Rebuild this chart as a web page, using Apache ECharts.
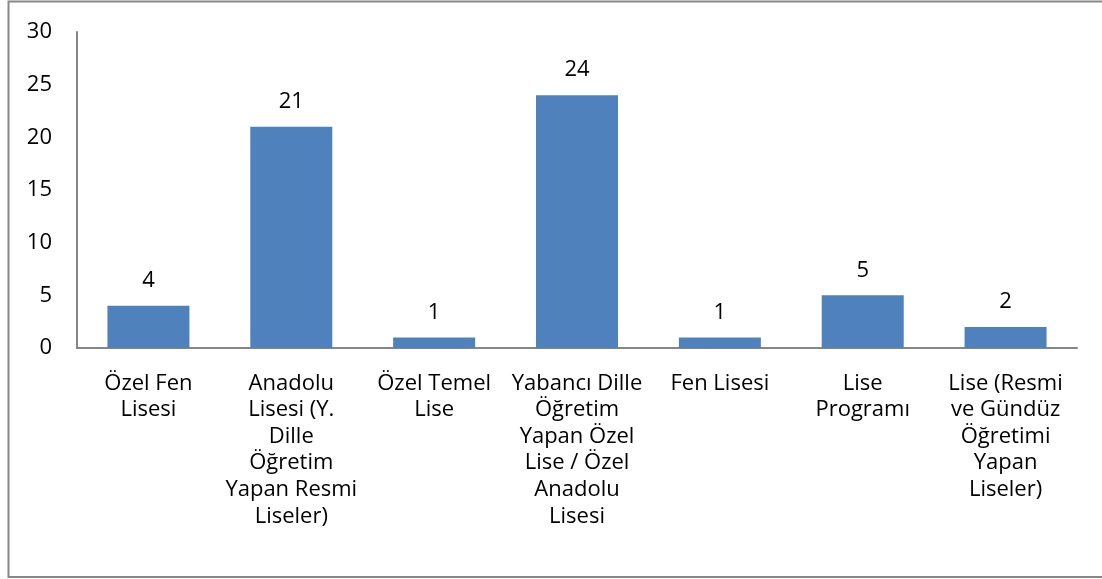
<!DOCTYPE html>
<html>
<head>
<meta charset="utf-8">
<script src="https://cdn.jsdelivr.net/npm/echarts@6/dist/echarts.min.js"></script>
<style>
html,body{margin:0;padding:0;background:#fff;}
#chart{width:1102px;height:579px;}
</style>
</head>
<body>
<div id="chart"></div>
<script>
const categories = [
  "Özel Fen\nLisesi",
  "Anadolu\nLisesi (Y.\nDille\nÖğretim\nYapan Resmi\nLiseler)",
  "Özel Temel\nLise",
  "Yabancı Dille\nÖğretim\nYapan Özel\nLise / Özel\nAnadolu\nLisesi",
  "Fen Lisesi",
  "Lise\nProgramı",
  "Lise (Resmi\nve Gündüz\nÖğretimi\nYapan\nLiseler)"
];
const values = [4, 21, 1, 24, 1, 5, 2];
const yMin = 0, yMax = 30, yStep = 5;

const chart = echarts.init(document.getElementById('chart'), null, {renderer: 'canvas'});
const font = "'Open Sans', 'DejaVu Sans', sans-serif";
chart.setOption({
  animation: false,
  backgroundColor: '#ffffff',
  graphic: [{
    type: 'rect',
    shape: {x: 8.5, y: 1.5, width: 1100, height: 575.5},
    style: {fill: 'none', stroke: '#878787', lineWidth: 2},
    silent: true, z: -1
  }],
  grid: {left: 77, right: 25, top: 32, bottom: 231, containLabel: false},
  xAxis: {
    type: 'category',
    data: categories,
    axisLine: {show: true, lineStyle: {color: '#868686', width: 2}},
    axisTick: {show: false},
    axisLabel: {
      interval: 0, margin: 22, color: '#000', fontSize: 22, lineHeight: 26.6,
      fontFamily: font, align: 'center'
    }
  },
  yAxis: {
    type: 'value',
    min: yMin, max: yMax, interval: yStep,
    axisLine: {show: true, lineStyle: {color: '#868686', width: 2}},
    axisTick: {show: false},
    splitLine: {show: false},
    axisLabel: {margin: 25, color: '#000', fontSize: 22, fontFamily: font}
  },
  series: [{
    type: 'bar',
    data: values,
    barWidth: 82,
    itemStyle: {color: '#4F81BD'},
    label: {
      show: true, position: 'top', distance: 14,
      color: '#000', fontSize: 22, fontFamily: font
    }
  }]
});
</script>
</body>
</html>
